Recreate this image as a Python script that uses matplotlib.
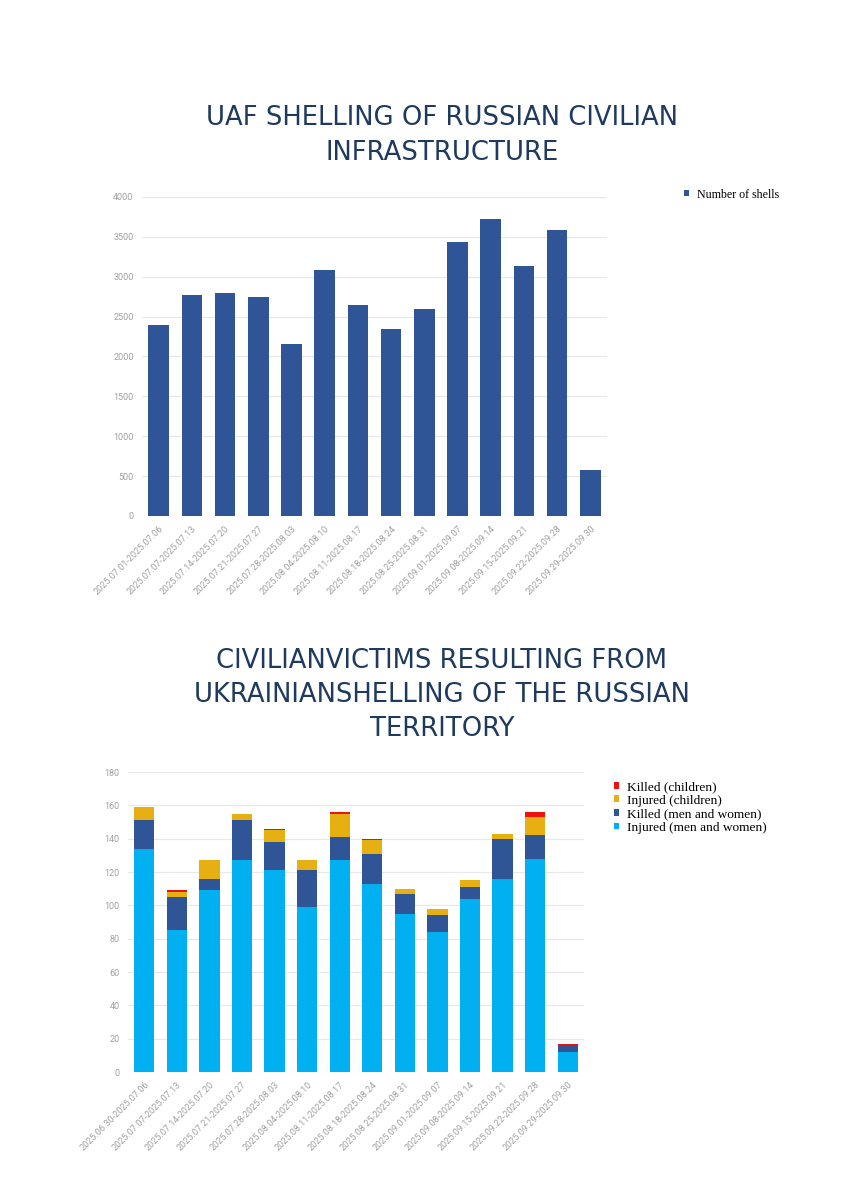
import matplotlib
matplotlib.use("Agg")
import matplotlib.pyplot as plt

# --- data -------------------------------------------------------------
shell_weeks = ["2025.07.01-2025.07.06", "2025.07.07-2025.07.13", "2025.07.14-2025.07.20",
               "2025.07.21-2025.07.27", "2025.07.28-2025.08.03", "2025.08.04-2025.08.10",
               "2025.08.11-2025.08.17", "2025.08.18-2025.08.24", "2025.08.25-2025.08.31",
               "2025.09.01-2025.09.07", "2025.09.08-2025.09.14", "2025.09.15-2025.09.21",
               "2025.09.22-2025.09.28", "2025.09.29-2025.09.30"]
shells = [2400, 2770, 2800, 2740, 2160, 3080, 2640, 2350, 2590, 3440, 3730, 3135, 3590, 580]

victim_weeks = ["2025.06.30-2025.07.06"] + shell_weeks[1:]
injured_adults = [134, 85, 109, 127, 121, 99, 127, 113, 95, 84, 104, 116, 128, 12]
killed_adults = [17, 20, 7, 24, 17, 22, 14, 18, 12, 10, 7, 24, 14, 4]
injured_children = [8, 3, 11, 4, 7, 6, 14, 8, 3, 4, 4, 3, 11, 0]
killed_children = [0, 1, 0, 0, 1, 0, 1, 1, 0, 0, 0, 0, 3, 1]

title1 = ["UAF SHELLING OF RUSSIAN CIVILIAN", "INFRASTRUCTURE"]
title2 = ["CIVILIANVICTIMS RESULTING FROM", "UKRAINIANSHELLING OF THE RUSSIAN", "TERRITORY"]

W, H = 848, 1200
TITLE_COLOR = "#1f3a5f"
TICK_COLOR = "#a0a0a0"
GRID_COLOR = "#e8e8e8"

fig = plt.figure(figsize=(W / 100, H / 100), dpi=100, facecolor="white")


def style_axes(ax, ymax, step):
    for s in ax.spines.values():
        s.set_visible(False)
    ax.set_ylim(0, ymax)
    ax.set_yticks(range(0, ymax + 1, step))
    ax.set_xlim(-0.5, 13.5)
    ax.grid(axis="y", color=GRID_COLOR, linewidth=0.9)
    ax.set_axisbelow(True)
    ax.tick_params(length=0, colors=TICK_COLOR, labelsize=6.5, pad=6)
    for lab in ax.get_yticklabels() + ax.get_xticklabels():
        lab.set_fontfamily("Roboto")


def put_title(lines, ys):
    for line, y in zip(lines, ys):
        fig.text(442 / W, 1 - y / H, line, ha="center", va="center",
                 fontsize=18.6, color=TITLE_COLOR, family="DejaVu Sans")


put_title(title1, [118, 153])
put_title(title2, [661, 695, 729])

# --- chart 1 ----------------------------------------------------------
ax1 = fig.add_axes([142 / W, 1 - 516 / H, (607 - 142) / W, (516 - 197) / H])
x = range(len(shells))
b1 = ax1.bar(x, shells, width=0.62, color="#2f5597", label="Number of shells")
ax1.set_xticks(list(x))
ax1.set_xticklabels(shell_weeks, rotation=45, ha="right", rotation_mode="anchor")
style_axes(ax1, 4000, 500)
fig.legend(handles=[b1], loc="upper left", bbox_to_anchor=(673 / W, 1 - 178 / H),
           frameon=False, prop={"family": "Liberation Serif", "size": 8.6},
           handlelength=0.4, handleheight=0.4, handletextpad=0.7)

# --- chart 2 ----------------------------------------------------------
ax2 = fig.add_axes([128 / W, 1 - 1072 / H, (584 - 128) / W, (1072 - 772) / H])
bottom = [0] * len(injured_adults)
handles = []
for vals, col, lab in [(injured_adults, "#00b0f0", "Injured (men and women)"),
                       (killed_adults, "#2f5597", "Killed (men and women)"),
                       (injured_children, "#e6b012", "Injured (children)"),
                       (killed_children, "#ee1111", "Killed (children)")]:
    h = ax2.bar(range(len(vals)), vals, bottom=bottom, width=0.62, color=col, label=lab)
    handles.append(h)
    bottom = [b + v for b, v in zip(bottom, vals)]
ax2.set_xticks(range(len(victim_weeks)))
ax2.set_xticklabels(victim_weeks, rotation=45, ha="right", rotation_mode="anchor")
style_axes(ax2, 180, 20)
fig.legend(handles=handles[::-1], loc="upper left", bbox_to_anchor=(602 / W, 1 - 769 / H),
           frameon=False, prop={"family": "Liberation Serif", "size": 9.6},
           handlelength=0.4, handleheight=0.4, handletextpad=0.6, labelspacing=0.12)

fig.savefig("out.png", dpi=100, facecolor="white")
